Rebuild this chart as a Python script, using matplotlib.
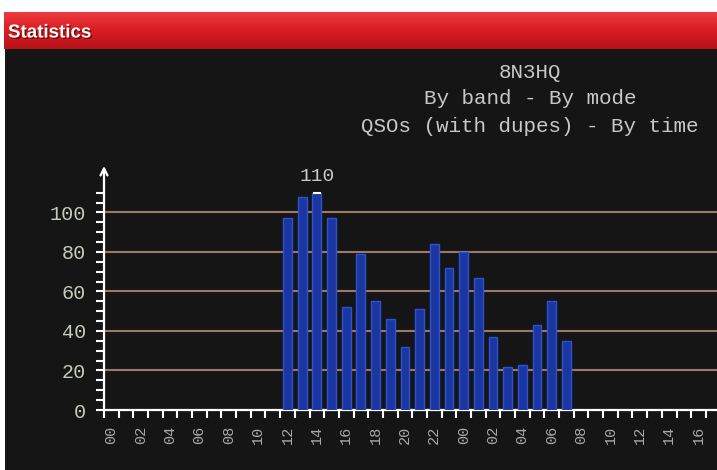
import numpy as np
import matplotlib
matplotlib.use('Agg')
import matplotlib.pyplot as plt
from matplotlib.patches import Rectangle
import matplotlib.patheffects as pe

# QSOs per hour, first bar is 12h on day 1
start_slot = 12
qsos = [97, 108, 110, 97, 52, 79, 55, 46, 32, 51, 84, 72, 80, 67, 37, 22, 23, 43, 55, 35]
hour_labels = ["00", "02", "04", "06", "08", "10", "12", "14", "16", "18", "20", "22",
               "00", "02", "04", "06", "08", "10", "12", "14", "16"]
y_labels = ["0", "20", "40", "60", "80", "100"]
title_lines = ["8N3HQ", "By band - By mode", "QSOs (with dupes) - By time"]

W, H = 717, 470
fig = plt.figure(figsize=(W / 100, H / 100), dpi=100, facecolor='white')

# dark panel and red header
fig.patches.append(Rectangle((5 / W, 0), 1, (H - 48) / H, transform=fig.transFigure,
                             facecolor='#151515', edgecolor='none', zorder=-5))
hdr = fig.add_axes([4 / W, (H - 49) / H, 1, 37 / H])
grad = np.linspace(0, 1, 50).reshape(-1, 1)
cmap = matplotlib.colors.LinearSegmentedColormap.from_list('hdr', ['#ee3a40', '#d81c22', '#b8121a'])
hdr.imshow(grad, aspect='auto', cmap=cmap, extent=[0, 1, 0, 1])
hdr.set_axis_off()
fig.text(8 / W, 1 - 33 / H, "Statistics", color='white', fontsize=13.5, fontweight='bold',
         family=['Liberation Sans', 'DejaVu Sans'], va='center', ha='left',
         path_effects=[pe.withSimplePatchShadow(offset=(1, -1), shadow_rgbFace='#600000', alpha=0.8)])

mono = ['Liberation Mono', 'DejaVu Sans Mono']
for txt, ypix in zip(title_lines, [73, 99, 127]):
    fig.text(530 / W, 1 - ypix / H, txt, color='#c8c8c8', fontsize=15, family=mono,
             ha='center', va='center')

ax = fig.add_axes([104 / W, 60 / H, (W - 104) / W, 244 / H])
ax.set_facecolor('none')
ax.set_xlim(0, (W - 104) / 14.68)
ax.set_ylim(0, 123.5)

x = start_slot + np.arange(len(qsos)) + 0.5
ax.bar(x, qsos, width=0.6, color='#1b36a0', edgecolor='#2c52d4', linewidth=1.0, zorder=3)
imax = int(np.argmax(qsos))
ax.hlines(qsos[imax], x[imax] - 0.25, x[imax] + 0.25, color='white', lw=1.5, zorder=4)
ax.text(x[imax], qsos[imax] + 8, str(qsos[imax]), color='#c8c8c8', fontsize=14,
        family=mono, ha='center', va='center')

# grid lines
ax.set_yticks(np.arange(0, 101, 20), y_labels)
ax.set_yticks(np.arange(0, 111, 5), minor=True)
for v in np.arange(20, 101, 20):
    ax.axhline(v, color='#9a786c', lw=1.5, zorder=1)

ax.set_xticks(np.arange(0, 42))
ax.set_xticklabels([])
ax.set_xticks(np.arange(0, 2 * len(hour_labels), 2) + 0.5, hour_labels, minor=True)

for s in ['top', 'right', 'left']:
    ax.spines[s].set_visible(False)
ax.spines['bottom'].set_color('white')
ax.spines['bottom'].set_linewidth(1.6)
ax.annotate('', xy=(0, 1), xytext=(0, 0), xycoords='axes fraction',
            arrowprops=dict(arrowstyle='->,head_length=0.5,head_width=0.25', color='white', lw=1.6,
                            shrinkA=0, shrinkB=0), annotation_clip=False)

ax.tick_params(axis='y', which='both', direction='out', length=6, width=1.5, color='white',
               labelcolor='#c4ccbc', labelsize=14.5, pad=7)
for lbl in ax.get_yticklabels():
    lbl.set_family(mono)
ax.tick_params(axis='x', which='major', direction='out', length=6, width=1.5, color='white')
ax.tick_params(axis='x', which='minor', length=0, labelcolor='#a8a8a8', labelsize=11,
               labelrotation=90, pad=11)
for lbl in ax.get_xticklabels(minor=True):
    lbl.set_family(mono)

fig.savefig('out.png', dpi=100, facecolor='white')
